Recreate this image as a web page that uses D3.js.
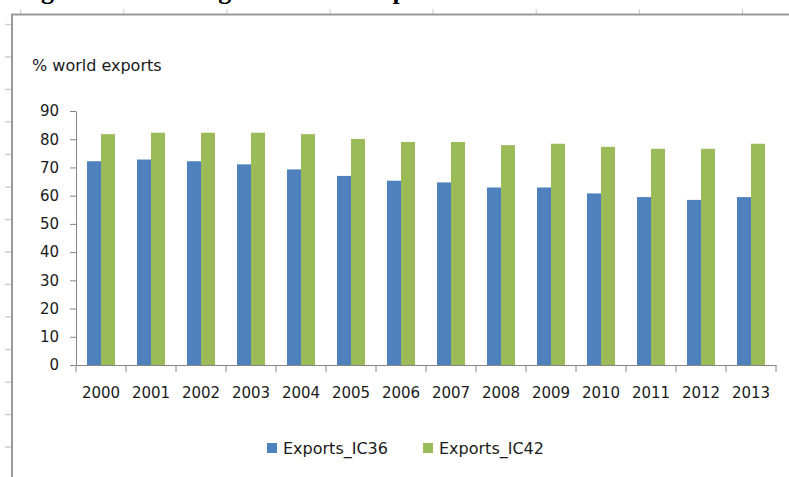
<!DOCTYPE html>
<html>
<head>
<meta charset="utf-8">
<script src="https://cdn.jsdelivr.net/npm/d3@7"></script>
<style>
  body { margin: 0; background: #fff; }
  svg text { font-family: "DejaVu Sans", Verdana, sans-serif; fill: #1a1a1a; }
</style>
</head>
<body>
<svg id="chart" width="789" height="477"></svg>
<script>
const years = ["2000", "2001", "2002", "2003", "2004", "2005", "2006",
  "2007", "2008", "2009", "2010", "2011", "2012", "2013"];
const exportsIC36 = [72.2, 72.8, 72.2, 71.1, 69.3, 67, 65.3, 64.7, 62.9, 62.9, 60.8, 59.5, 58.5, 59.5];
const exportsIC42 = [81.8, 82.3, 82.3, 82.3, 81.8, 80.1, 79, 79, 77.9, 78.4, 77.3, 76.6, 76.6, 78.4];
const seriesNames = ["Exports_IC36", "Exports_IC42"];
const seriesColors = ["#4f81bd", "#9bbb59"];
const yTicks = [0, 10, 20, 30, 40, 50, 60, 70, 80, 90];

const svg = d3.select("#chart");

// page frame (document ruler look), caption cut off at the top
const frame = svg.append("g");
frame.append("text")
  .attr("x", 18).attr("y", -1)
  .style("font-family", "'Liberation Serif', 'Times New Roman', serif")
  .style("font-weight", "bold")
  .style("font-size", "26px")
  .style("fill", "#000")
  .text("Figure 2: Declining share of IC exports");
d3.range(8).forEach(i => {
  frame.append("line")
    .attr("x1", 20.7 + i * 103.1).attr("x2", 20.7 + i * 103.1)
    .attr("y1", 9).attr("y2", 14)
    .attr("stroke", "#c8c8c8").attr("stroke-width", 1);
});
d3.range(14).forEach(i => {
  frame.append("line")
    .attr("x1", 5).attr("x2", 11)
    .attr("y1", 24.5 + i * 32.5).attr("y2", 24.5 + i * 32.5)
    .attr("stroke", "#d0d0d0").attr("stroke-width", 1.5);
});
frame.append("path")
  .attr("d", "M12,477V14.5H789")
  .attr("fill", "none")
  .attr("stroke", "#9a9a9a")
  .attr("stroke-width", 2);

const x = d3.scaleBand().domain(years).range([76, 776]);
const xs = d3.scaleBand().domain(seriesNames).range([11, 39]);
const y = d3.scaleLinear().domain([0, 90]).range([365, 111]);

const rows = years.map((yr, i) => ({ year: yr, values: [exportsIC36[i], exportsIC42[i]] }));

// bars
svg.append("g")
  .selectAll("g")
  .data(rows)
  .join("g")
  .attr("transform", d => `translate(${x(d.year)},0)`)
  .selectAll("rect")
  .data(d => d.values.map((v, k) => ({ name: seriesNames[k], value: v, k })))
  .join("rect")
  .attr("x", d => xs(d.name))
  .attr("width", xs.bandwidth())
  .attr("y", d => y(d.value))
  .attr("height", d => y(0) - y(d.value))
  .attr("fill", d => seriesColors[d.k]);

// y axis
const yAxis = svg.append("g")
  .attr("transform", "translate(76,0)")
  .call(d3.axisLeft(y).tickValues(yTicks).tickSize(6).tickPadding(11).tickSizeOuter(0));
yAxis.selectAll("text").style("font-size", "15px");

// x axis labels
const xAxis = svg.append("g")
  .attr("transform", "translate(0,365)")
  .call(d3.axisBottom(x).tickSize(0).tickPadding(22).tickSizeOuter(0));
xAxis.selectAll("text").style("font-size", "15px");
// x ticks between categories
svg.append("g")
  .selectAll("line")
  .data(years.concat(["end"]))
  .join("line")
  .attr("x1", (d, i) => x.range()[0] + i * x.step())
  .attr("x2", (d, i) => x.range()[0] + i * x.step())
  .attr("y1", 365).attr("y2", 372)
  .attr("stroke", "#868686");

svg.selectAll(".domain, .tick line").attr("stroke", "#868686");

// y title
svg.append("text")
  .attr("x", 32).attr("y", 71)
  .style("font-size", "16px")
  .text("% world exports");

// legend
const legend = svg.append("g")
  .selectAll("g")
  .data(seriesNames)
  .join("g")
  .attr("transform", (d, i) => `translate(${267 + i * 156},443)`);
legend.append("rect")
  .attr("width", 10).attr("height", 10)
  .attr("fill", (d, i) => seriesColors[i]);
legend.append("text")
  .attr("x", 16).attr("y", 11)
  .style("font-size", "16px")
  .text(d => d);
</script>
</body>
</html>
